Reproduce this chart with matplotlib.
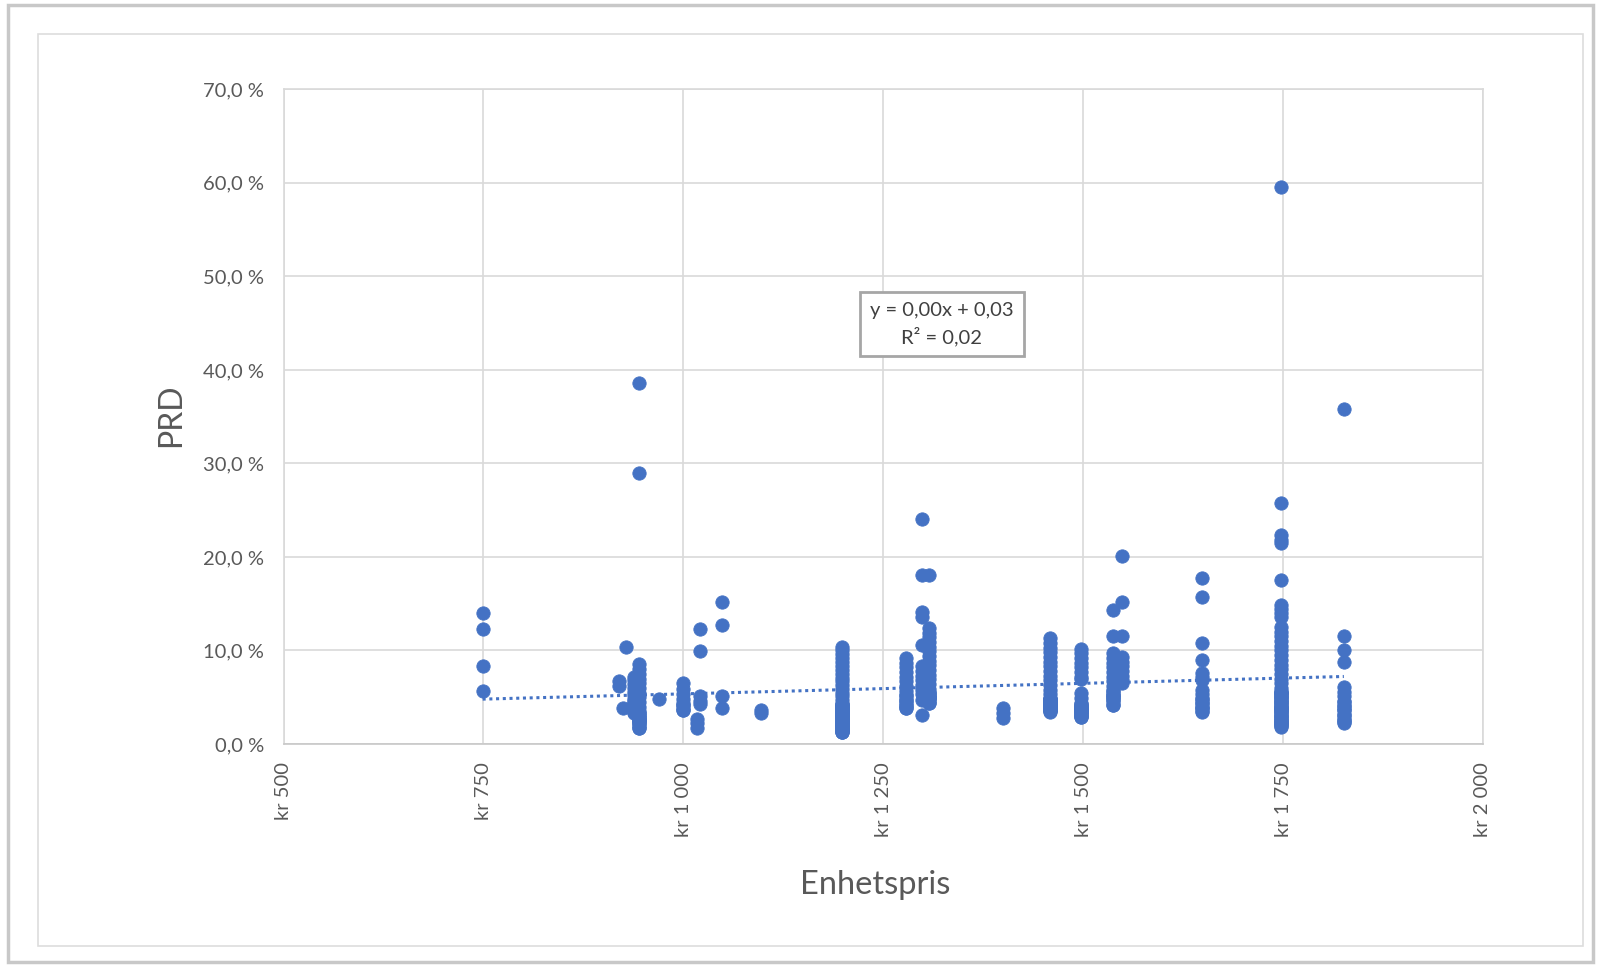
import numpy as np
import matplotlib
matplotlib.use("Agg")
import matplotlib.pyplot as plt
from matplotlib.patches import Rectangle
from matplotlib.ticker import FuncFormatter

plt.rcParams['font.family'] = ['Lato', 'DejaVu Sans']

# ---- data: unit price (kr) -> PRD (%) ; dense columns hold many overlapping points ----
p749 = [14.0, 12.3, 8.3, 5.7]
p920 = [6.7, 6.2]
p924 = [3.9]
p928 = [10.4]
p938 = [7.2, 6.8, 6.4, 6.0, 5.6, 5.2, 4.8, 4.4, 4.0, 3.6, 3.3,
        3.4, 3.7, 4.0, 4.0, 4.3, 4.6]
p945 = [38.6, 29.0, 8.6, 8.0, 7.5, 7.0, 6.5, 6.0, 5.5, 5.0, 4.5, 4.0, 3.5, 3.0, 2.6, 2.2, 1.7,
        1.7, 1.9, 2.1, 2.3, 2.5, 2.6, 2.7, 2.8, 2.9, 3.1, 3.3, 3.3]
p969 = [4.8]
p999 = [6.5, 5.9, 5.3, 4.8, 4.2, 3.6, 3.6, 3.8, 4.2, 4.4]
p1017 = [2.7, 2.2, 1.7]
p1021 = [12.3, 9.9, 5.1, 4.6, 4.3]
p1048 = [15.2, 12.7, 5.1, 3.8]
p1097 = [3.6, 3.3]
p1198 = [10.4, 10.0, 9.6, 9.2, 8.8, 8.3, 7.9, 7.5, 7.1, 6.7, 6.3, 5.9, 5.5, 5.1, 4.7,
         4.3, 3.9, 3.5, 3.1, 2.7, 2.3, 1.9, 1.6, 1.3,
         1.3, 1.5, 1.7, 1.9, 2.1, 2.3, 2.5, 2.7, 2.9, 3.1, 3.3, 3.5, 3.7, 3.9, 4.1, 4.3,
         1.3, 1.5, 1.7, 1.9, 2.1, 2.3, 2.5, 2.7, 2.9, 3.1, 3.3, 3.5, 3.7, 3.9, 4.1, 4.3,
         1.6, 2.0, 2.4, 2.8, 2.8, 3.2, 3.6, 4.0]
p1278 = [9.2, 8.7, 8.2, 7.7, 7.2, 6.7, 6.2, 5.7, 5.2, 4.7, 4.2, 3.8,
         3.8, 4.1, 4.4, 4.6, 4.9, 5.2]
p1299 = [24.1, 18.1, 14.1, 13.6, 10.6, 8.3, 7.8, 7.3, 6.8, 6.3, 5.8, 5.3, 4.7, 3.1]
p1307 = [18.1, 12.4, 11.9, 11.4, 10.9, 10.4, 9.9, 9.4, 8.9, 8.4, 7.9, 7.4, 6.9, 6.4,
         5.9, 5.4, 4.9, 4.35,
         4.4, 4.6, 4.8, 4.9, 5.0, 5.0, 5.1, 5.2, 5.4, 5.6]
p1400 = [3.8, 3.3, 2.8]
p1458 = [11.3, 10.8, 10.3, 9.8, 9.3, 8.8, 8.3, 7.8, 7.3, 6.8, 6.3, 5.8, 5.3, 4.8,
         4.3, 3.9, 3.45,
         3.5, 4.9, 3.6, 4.8, 3.7, 4.7, 3.8, 4.6, 3.9, 4.5, 4.0, 4.4, 4.1, 4.3, 4.2, 4.2,
         3.6, 4.8, 3.8, 4.6]
p1497 = [10.2, 9.7, 9.2, 8.7, 8.2, 7.7, 7.2, 7.0, 5.4, 4.9, 4.4, 3.9, 3.4, 2.9,
         2.9, 4.3, 3.0, 4.2, 3.1, 4.1, 3.2, 4.0, 3.3, 3.9, 3.4, 3.8, 3.5, 3.7, 3.6, 3.6]
p1537 = [14.3, 11.5, 9.7, 9.2, 8.7, 8.2, 7.7, 7.2, 6.7, 6.2, 5.7, 5.2, 4.7, 4.2,
         4.2, 5.8, 4.5, 5.5, 4.8, 5.2, 5.0, 5.0]
p1548 = [20.1, 15.2, 11.5, 9.3, 8.8, 8.3, 7.8, 7.3, 6.8, 6.5]
p1648 = [17.7, 15.75, 10.8, 9.0, 7.6, 7.2, 6.8, 5.8, 5.3, 4.8, 4.3, 3.9, 3.45,
         3.5, 4.9, 3.8, 4.6, 4.0, 4.4]
p1747 = [59.6, 25.8, 22.3, 21.8, 21.5, 17.5, 14.9, 14.4, 14.0, 13.6, 12.5, 12.0, 11.5,
         11.0, 10.5, 10.0, 9.5, 9.0, 8.5, 8.0, 7.5, 7.0, 6.5, 6.0, 5.5, 5.0, 4.5,
         4.0, 3.5, 3.0, 2.6, 2.2, 1.85,
         1.9, 5.7, 2.0, 5.6, 2.2, 5.4, 2.4, 5.2, 2.6, 5.0, 2.8, 4.8, 3.0, 4.6, 3.2, 4.4,
         3.4, 4.2, 3.6, 4.0, 3.8, 3.8, 2.1, 5.5, 2.5, 5.1, 2.9, 4.7, 3.3, 4.3, 3.7, 3.9]
p1826 = [35.85, 11.5, 10.1, 8.8, 6.1, 5.6, 5.1, 4.6, 4.1, 3.6, 3.1, 2.6, 2.2,
         2.3, 4.5, 2.6, 4.2, 2.9, 3.9, 3.2, 3.6]

prices = [749, 920, 924, 928, 938, 945, 969, 999, 1017, 1021, 1048, 1097, 1198, 1278,
          1299, 1307, 1400, 1458, 1497, 1537, 1548, 1648, 1747, 1826]
groups = [p749, p920, p924, p928, p938, p945, p969, p999, p1017, p1021, p1048, p1097,
          p1198, p1278, p1299, p1307, p1400, p1458, p1497, p1537, p1548, p1648, p1747, p1826]

y_ticks = [0, 10, 20, 30, 40, 50, 60, 70]
x_ticks = [500, 750, 1000, 1250, 1500, 1750, 2000]
trend_label = "y = 0,00x + 0,03\nR² = 0,02"

# ---- build arrays ----
xs = np.concatenate([[p] * len(g) for p, g in zip(prices, groups)]).astype(float)
ys = np.concatenate(groups).astype(float)

W, H = 1598, 965
fig = plt.figure(figsize=(W / 100, H / 100), dpi=100)
fig.patch.set_facecolor('white')

# screenshot frame / chart area border
fig.patches.append(Rectangle((8 / W, 1 - 962 / H), (1593 - 8) / W, (962 - 5) / H,
                             transform=fig.transFigure, fill=False,
                             edgecolor='#C8C8C8', linewidth=2.5))
fig.patches.append(Rectangle((38 / W, 1 - 946 / H), (1583 - 38) / W, (946 - 34) / H,
                             transform=fig.transFigure, fill=False,
                             edgecolor='#DDDDDD', linewidth=1.2))

left, right, top, bottom = 283.5, 1483, 89.3, 744
ax = fig.add_axes([left / W, 1 - bottom / H, (right - left) / W, (bottom - top) / H])

blue = '#4472C4'
ax.plot(xs, ys, linestyle='none', marker='o', markersize=9.6,
        markerfacecolor=blue, markeredgecolor=blue, markeredgewidth=0.6, zorder=3)

# linear trend line (least squares over all points)
k, b = np.polyfit(xs, ys, 1)
tx = np.array([xs.min(), xs.max()])
ax.plot(tx, k * tx + b, linestyle=(0, (1, 1.2)), color=blue, linewidth=2.2, zorder=2)

ax.set_xlim(500, 2000)
ax.set_ylim(0, 70)
ax.set_xticks(x_ticks)
ax.set_yticks(y_ticks)
ax.yaxis.set_major_formatter(FuncFormatter(lambda v, _: f"{v:.1f}".replace('.', ',') + " %"))
ax.xaxis.set_major_formatter(FuncFormatter(
    lambda v, _: "kr " + f"{int(v):,}".replace(',', ' ')))
ax.grid(True, color='#D9D9D9', linewidth=1.2)
ax.set_axisbelow(True)
for s in ax.spines.values():
    s.set_color('#D9D9D9')
    s.set_linewidth(1.2)
ax.spines['bottom'].set_color('#C8C8C8')
ax.tick_params(axis='both', length=0, labelsize=14.5, labelcolor='#595959')
ax.tick_params(axis='y', pad=14)
ax.tick_params(axis='x', pad=13)
for lab in ax.get_xticklabels():
    lab.set_rotation(90)
    lab.set_va('top')
    lab.set_ha('center')

fig.text(875 / W, 1 - 885 / H, "Enhetspris", ha='center', va='center',
         fontsize=23.5, color='#595959')
fig.text(171 / W, 1 - 415 / H, "PRD", ha='center', va='center', rotation=90,
         fontsize=23, color='#595959')

ax.text(1323, 44.9, trend_label, ha='center', va='center', fontsize=14.5,
        color='#404040', linespacing=1.45,
        bbox=dict(boxstyle='square,pad=0.5', facecolor='white',
                  edgecolor='#A6A6A6', linewidth=2))

fig.savefig('out.png', dpi=100, facecolor='white')
